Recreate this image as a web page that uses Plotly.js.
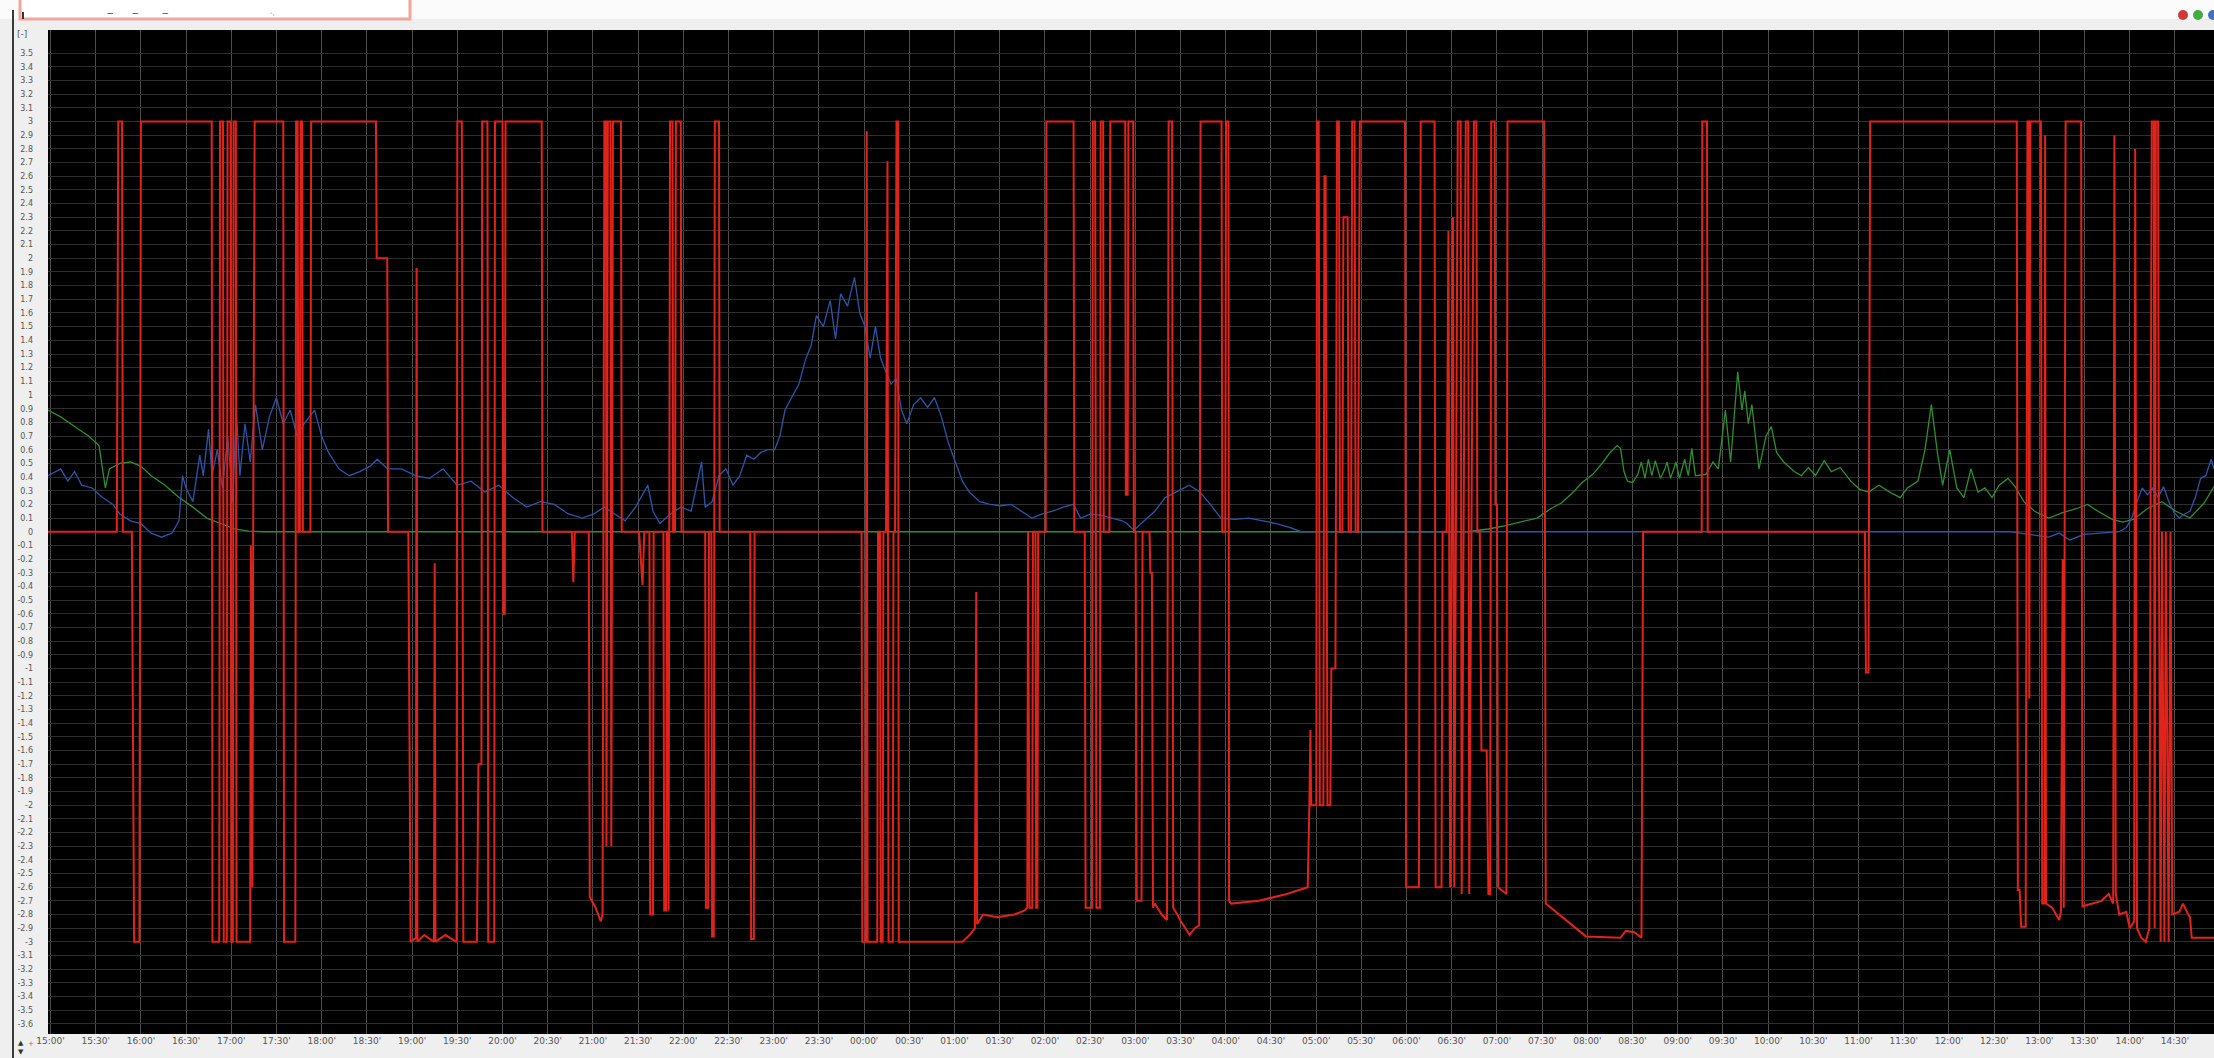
<!DOCTYPE html>
<html>
<head>
<meta charset="utf-8">
<script src="https://cdn.plot.ly/plotly-3.0.1.min.js"></script>
<style>html,body{margin:0;padding:0;background:#efefef;}#chart{width:2214px;height:1058px;}</style>
</head>
<body>
<div id="chart"></div>
<script>
// time axis: minutes after 15:00
const xTickVals = [0,30,60,90,120,150,180,210,240,270,300,330,360,390,420,450,480,510,540,570,600,630,660,690,720,750,780,810,840,870,900,930,960,990,1020,1050,1080,1110,1140,1170,1200,1230,1260,1290,1320,1350,1380,1410,1440];
const xTickText = ["15:00'","15:30'","16:00'","16:30'","17:00'","17:30'","18:00'","18:30'","19:00'","19:30'","20:00'","20:30'","21:00'","21:30'","22:00'","22:30'","23:00'","23:30'","00:00'","00:30'","01:00'","01:30'","02:00'","02:30'","03:00'","03:30'","04:00'","04:30'","05:00'","05:30'","06:00'","06:30'","07:00'","07:30'","08:00'","08:30'","09:00'","09:30'","10:00'","10:30'","11:00'","11:30'","12:00'","12:30'","13:00'","13:30'","14:00'","14:30'","15:00'"];
const yTickVals = [];
const yTickText = [];
for (let k = -36; k <= 35; k++) {
  yTickVals.push(k / 10);
  let s = (k / 10).toFixed(1);
  if (s.endsWith('.0')) s = s.slice(0, -2);
  if (s === '-0') s = '0';
  yTickText.push(s);
}

// red series (minutes, value)
const redPts = [
[-1.7,0],[44,0],[45,3],[47.5,3],[48,0],[54,0],[55.5,-3],[59,-3],[60,3],[107,3],[107.5,-3],[112,-3],[112.5,3],[114.5,3],[115,-3],[117,-3],[117.5,3],[119.5,3],[120,-3],[121,-3],[121.5,3],[123,3],[123.5,-3],[132.5,-3],[133,-0.1],[134,-2.6],[134.5,-0.1],[135.5,3],[154.5,3],[155,-3],[162.5,-3],[163,3],[164,3],[164.5,0],[165.5,0],[166,3],[167,3],[167.5,0],[172.5,0],[173,3],[216,3],[216.5,2.0],[223.5,2.0],[224,0],[237.5,0],[239,-3],[242.5,-2.97],[243,1.93],[243.5,-3],[248,-2.95],[254.5,-3],[255,-0.23],[255.5,-3],[262,-2.95],[269.5,-3],[270,3],[273,3],[274,-3],[283,-3],[284,-1.7],[286,-1.7],[286.5,3],[290,3],[290.5,-3],[294.5,-3],[295,3],[300,3],[300.5,-0.6],[301.5,-0.6],[302,3],[326,3],[326.5,0],[346,0],[347,-0.37],[348,0],
[357.2,0],[357.9,-2.67],[361.8,-2.75],[365.2,-2.85],[366.4,-2.8],[367.6,3],[368.7,3],[369,-2.3],[369.9,3],[371.7,3],[372.2,-2.3],[373.3,3],[378.6,3],[379.1,0],[390.6,0],[392.9,-0.39],[394.1,0],[397.5,0],[398,-2.8],[399.9,-2.8],[400.3,0],[406.8,0],[407.3,-2.77],[408.6,-2.77],[409.1,0],[409.8,0],[410.2,-2.77],[411.2,3],[412.8,3],[413.2,0],[414.5,0],[415.1,3],[418.3,3],[418.8,0],[434.5,0],[435,-2.75],[436.5,-2.75],[437,0],[438.6,0],[439.1,-2.96],[440.2,-2.96],[440.9,3],[443.7,3],[444.1,0],[464.4,0],[465,-2.98],[466.8,-2.98],[467.3,0],[538.3,0],[538.8,-3],[541,-3],[541.7,2.93],[542.3,-3],[548.7,-3],[549.2,0],[550.5,0],[551,-3],[552.3,-3],[552.8,0],[554.5,0],[555.5,2.71],[556.2,-3],[559,-3],[559.5,0],[560.5,0],[561.5,3],[562.5,3],[563,-3],[605.2,-3],[610,-2.95],[613.5,-2.9],[614.4,-0.44],[615,-2.87],[619,-2.8],[628.2,-2.82],[639.8,-2.8],[646.7,-2.77],[648.3,-2.75],[648.8,0],[649.8,-2.75],[651.6,-2.75],[652,0],[653.7,0],[654.2,-2.75],[655,-2.75],[655.5,0],[660.5,0],[661,3],[679,3],[679.5,0],[686.4,0],[687,-2.75],[691.2,-2.75],[691.8,3],[693.3,3],[693.8,0],[694.2,-2.75],[696.5,-2.75],[697,3],[698.6,3],[699,0],[702.8,0],[703.4,3],
[713.3,3],[713.7,0.27],[714.9,0.27],[715.4,3],[718.6,3],[719,0],[720.2,0],[720.9,-2.7],[724.1,-2.7],[724.8,0],[729.4,0],[730,-0.3],[731,-0.3],[731.7,-2.75],[732.9,-2.72],[737.5,-2.8],[741,-2.84],[742.1,3],[744.4,3],[745.1,-2.75],[747.9,-2.8],[750.2,-2.85],[756,-2.95],[759.4,-2.9],[762.4,-2.88],[763.3,3],[777.2,3],[777.7,0],[779.7,0],[780.2,3],[781.8,3],[782.2,-2.7],[783.6,-2.72],[802,-2.7],[820.5,-2.65],[834.4,-2.6],[835.5,-2.0],[836.2,-1.45],[836.7,-2.0],[840.1,-2.0],[840.6,3],[841.7,3],[842.4,-2.0],[844.8,-2.0],[845.5,2.6],[846.3,2.6],[847.5,-2.0],[849.4,-2.0],[850.1,-1.0],[852.8,-1.0],[853.9,3],[855.1,3],[855.8,0],[857.4,0],[858.1,2.3],[860.9,2.3],[861.6,0],[863.2,0],[863.9,3],[865.5,3],[866.2,0],[867.8,0],[869,3],[899,3],[899.7,-2.6],[908.2,-2.6],[909.4,3],[918.6,3],[919.3,-2.6],[923.2,-2.6],[923.9,0],[926.6,0],[927.8,2.2],[928.9,-2.6],[930.8,2.3],[931.7,-2.6],[934,3],[935.9,3],[936.6,-2.65],[939.3,3],[940.9,3],[941.6,-2.65],[944.7,3],[946.3,3],[947,0],[948.6,0],[949.7,-1.6],[953.2,-1.6],[954.3,-2.65],[955.5,-2.65],[956.2,3],[958.5,3],[959,0.2],[960,0.2],[960.8,-2.6],[966.3,-2.65],[967,3],[991.3,3],[992.4,-2.72],[1019,-2.96],[1042,-2.97],[1045.5,-2.92],[1051.2,-2.93],[1055.9,-2.97],[1057,0],
[1095.9,0],[1096.3,3],[1099.4,3],[1099.9,0],[1204.2,0],[1204.9,-1.03],[1206.6,-1.03],[1207.7,3],[1305,3],[1305.7,-2.62],[1306.9,-2.62],[1307.9,-2.89],[1310.9,-2.89],[1312.1,3],[1312.8,3],[1313.3,-1.22],[1313.9,3],[1321,3],[1321.9,-2.72],[1323.3,-2.72],[1323.8,2.9],[1324.4,-2.72],[1328.5,-2.75],[1333.2,-2.84],[1334.3,-2.78],[1335.5,-0.2],[1336.2,-2.75],[1337.4,3],[1347.7,3],[1348.6,-2.74],[1354.3,-2.72],[1361.3,-2.7],[1366,-2.65],[1369,-2.72],[1369.8,2.9],[1370.7,-2.65],[1373,-2.8],[1377.7,-2.78],[1380,-2.9],[1382.9,-2.85],[1383.6,2.8],[1384.8,-2.9],[1387.6,-2.97],[1390.6,-3],[1393,-2.9],[1394.6,3],[1396,3],[1396.5,-2.9],[1397.3,3],[1398.8,3],[1399.3,0],[1400.5,-3],[1401.4,0],[1403,-3],[1403.9,0],[1405.8,-3],[1407,0],[1408.2,-2.8],[1412.9,-2.78],[1415.3,-2.72],[1418.8,-2.8],[1420,-2.82],[1421.1,-2.97],[1435.9,-2.97]
];
const redMin = redPts.map(p => p[0]);
const redVal = redPts.map(p => p[1]);

// blue series
const bluePts = [
[-1.7,0.41],[6.8,0.46],[11.5,0.37],[16,0.44],[20.7,0.34],[27.6,0.32],[34.5,0.25],[41.4,0.2],[46,0.13],[53,0.08],[59.9,0.06],[66.8,-0.01],[73.7,-0.04],[80.7,-0.01],[85.3,0.08],[87.6,0.41],[89.9,0.32],[94.5,0.22],[99.1,0.56],[101.4,0.41],[104.9,0.75],[107.2,0.41],[110.7,0.6],[114.1,0.32],[117.6,0.7],[121,0.22],[123.3,0.89],[125.7,0.41],[129.1,0.79],[132.6,0.51],[136,0.93],[140.6,0.6],[145.3,0.84],[149.9,0.98],[154.5,0.79],[159.1,0.89],[163.7,0.7],[168.3,0.79],[175.3,0.89],[179.9,0.7],[184.5,0.58],[191.4,0.46],[198.3,0.41],[205.2,0.44],[212.2,0.48],[216.8,0.53],[223.7,0.46],[233,0.46],[242.2,0.41],[251.4,0.39],[260.6,0.46],[269.8,0.34],[279.1,0.37],[288.3,0.29],[297.5,0.34],[306.8,0.25],[316,0.18],[325.2,0.22],[334.4,0.2],[343.7,0.13],[352.9,0.1],
[360.6,0.13],[367.5,0.18],[374.5,0.13],[381.4,0.08],[388.3,0.18],[396.4,0.34],[399.9,0.15],[404.5,0.06],[411.4,0.13],[418.3,0.18],[425.2,0.15],[432.1,0.51],[434.5,0.18],[439.1,0.22],[443.7,0.41],[448.3,0.46],[452.9,0.34],[457.5,0.41],[462.1,0.56],[466.8,0.53],[471.4,0.58],[476,0.6],[480.6,0.6],[484.1,0.7],[487.5,0.89],[492.1,0.98],[496.7,1.08],[501.4,1.27],[504.8,1.36],[508.3,1.58],[512.9,1.5],[517.5,1.69],[521,1.41],[524.4,1.74],[529,1.65],[533.6,1.86],[537.1,1.6],[540.6,1.5],[544,1.27],[547.5,1.5],[550.9,1.27],[554.4,1.17],[557.9,1.08],[561.3,1.12],[564.8,0.89],[568.3,0.79],[572.9,0.93],[577.5,0.98],[582.1,0.91],[586.7,0.98],[591.3,0.84],[595.9,0.65],[600.6,0.51],[605.2,0.37],[609.8,0.29],[616.7,0.22],[623.6,0.2],[630.5,0.19],[637.5,0.2],[644.4,0.15],[651.3,0.1],[658.2,0.13],[665.1,0.15],[672.1,0.18],[679,0.2],[683.6,0.1],[690.5,0.13],[697.4,0.12],[704.4,0.1],[711.3,0.08],
[714.4,0.06],[719,0.01],[725.9,0.08],[732.9,0.15],[739.8,0.25],[746.7,0.29],[755.9,0.34],[762.9,0.29],[769.8,0.2],[776.7,0.1],[785.9,0.09],[795.2,0.1],[804.4,0.08],[813.6,0.06],[822.8,0.03],[829.8,0],[1300,0],[1326.2,-0.04],[1333.2,-0.01],[1340.2,-0.06],[1349.6,-0.02],[1373,0],[1377.7,0.03],[1381.3,0.1],[1384.8,0.22],[1388.3,0.32],[1391.8,0.27],[1395.3,0.32],[1398.8,0.25],[1402.4,0.33],[1405.9,0.22],[1409.4,0.14],[1412.9,0.1],[1416.4,0.13],[1420,0.15],[1423.5,0.25],[1427,0.39],[1430.5,0.41],[1434,0.53],[1435.9,0.46]
];
const blueMin = bluePts.map(p => p[0]);
const blueVal = bluePts.map(p => p[1]);

// green series
const greenPts = [
[-1.7,0.89],[6.8,0.84],[16,0.77],[25.3,0.7],[32.2,0.63],[34.5,0.46],[36.4,0.32],[39.1,0.46],[46,0.5],[53,0.51],[59.9,0.48],[66.8,0.41],[76,0.34],[85.3,0.25],[94.5,0.18],[103.7,0.1],[113,0.06],[122.2,0.02],[131.4,0.005],[140.6,0],[940.5,0],[954.3,0.02],[963.6,0.04],[975.1,0.07],[986.6,0.1],[995.9,0.17],[1002.8,0.21],[1009.7,0.28],[1016.6,0.36],[1023.6,0.42],[1030.5,0.51],[1035.1,0.58],[1039.7,0.63],[1042,0.61],[1044.3,0.44],[1046.6,0.37],[1050.1,0.36],[1053.5,0.42],[1055.8,0.51],[1058.2,0.39],[1060.5,0.53],[1062.8,0.41],[1065.1,0.52],[1068.5,0.39],[1071.5,0.46],
[1072.9,0.51],[1075.2,0.39],[1078.8,0.51],[1081.1,0.39],[1084.6,0.53],[1087,0.41],[1089.3,0.61],[1091.7,0.41],[1098.7,0.42],[1103.4,0.51],[1106.9,0.46],[1111.6,0.89],[1115.1,0.51],[1119.8,1.17],[1122.6,0.89],[1124.5,1.03],[1126.8,0.79],[1129.2,0.93],[1131.5,0.7],[1133.9,0.46],[1138.6,0.7],[1142.1,0.77],[1145.6,0.58],[1150.3,0.51],[1157.3,0.44],[1162,0.41],[1166.7,0.47],[1171.4,0.41],[1177.2,0.52],[1181.9,0.44],[1187.8,0.47],[1194.8,0.37],[1200.7,0.31],[1206.6,0.29],[1213.6,0.34],[1220.6,0.29],[1227.7,0.25],[1232.4,0.32],[1239.4,0.37],[1244.1,0.6],[1248.3,0.93],[1252.3,0.58],[1255.8,0.34],[1260.5,0.6],[1265.2,0.32],[1269.9,0.25],[1274.6,0.46],[1279.3,0.29],[1283.9,0.32],[1288.6,0.25],[1293.3,0.34],[1299.2,0.39],[1303.9,0.33],[1309.7,0.22],[1316.8,0.15],[1326.2,0.1],[1335.5,0.14],[1344.9,0.17],[1351.9,0.2],[1358.9,0.15],[1368.4,0.09],[1375.4,0.07],[1382.4,0.09],[1391.8,0.17],[1401.2,0.22],[1410.6,0.15],[1420,0.1],[1429.3,0.21],[1435.9,0.33]
];
const greenMin = greenPts.map(p => p[0]);
const greenVal = greenPts.map(p => p[1]);

// pixel helpers for decorations (plot area: x 48..2214, y 30..1034)
const PL = 48, PW = 2166, PT = 30, PH = 1004;
const fx = px => (px - PL) / PW;
const fy = py => (PT + PH - py) / PH;

const traces = [
  {x: greenMin, y: greenVal, type: 'scatter', mode: 'lines', line: {color: '#2f8f2f', width: 1.3}, hoverinfo: 'skip'},
  {x: blueMin, y: blueVal, type: 'scatter', mode: 'lines', line: {color: '#2e55a8', width: 1.3}, hoverinfo: 'skip'},
  {x: redMin, y: redVal, type: 'scatter', mode: 'lines', line: {color: '#e0231b', width: 2}, hoverinfo: 'skip'}
];

const shapes = [
  {type: 'rect', xref: 'paper', yref: 'paper', x0: fx(0), x1: fx(2214), y0: fy(19), y1: fy(0), fillcolor: '#fbfbfb', line: {width: 0}, layer: 'below'},
  {type: 'rect', xref: 'paper', yref: 'paper', x0: fx(20), x1: fx(410), y0: fy(19), y1: fy(-4), fillcolor: '#ffffff', line: {color: '#f2a59d', width: 3}},
  {type: 'line', xref: 'paper', yref: 'paper', x0: fx(23), x1: fx(23), y0: fy(19), y1: fy(12), line: {color: '#333', width: 2}},
  {type: 'line', xref: 'paper', yref: 'paper', x0: fx(13), x1: fx(13), y0: fy(1058), y1: fy(10), line: {color: '#3a3a3a', width: 2}},
  {type: 'circle', xref: 'paper', yref: 'paper', x0: fx(2178), x1: fx(2188), y0: fy(20), y1: fy(10), fillcolor: '#d23a3a', line: {width: 0}},
  {type: 'circle', xref: 'paper', yref: 'paper', x0: fx(2193), x1: fx(2203), y0: fy(20), y1: fy(10), fillcolor: '#3fae3f', line: {width: 0}},
  {type: 'circle', xref: 'paper', yref: 'paper', x0: fx(2208), x1: fx(2218), y0: fy(20), y1: fy(10), fillcolor: '#3f72c4', line: {width: 0}}
];

const ann = (px, py, text, size, color) => ({xref: 'paper', yref: 'paper', x: fx(px), y: fy(py), text: text, showarrow: false, xanchor: 'left', yanchor: 'middle', font: {size: size, color: color, family: 'DejaVu Sans'}});
const annotations = [
  ann(15, 34, '[-]', 9, '#555'),
  ann(16, 1043, '▲', 7, '#333'),
  ann(16, 1052, '▼', 7, '#333'),
  ann(26, 1044, '+', 7, '#777'),
  ann(105, 12, '‒', 10, '#444'),
  ann(130, 12, '‒', 10, '#444'),
  ann(160, 12, '‒', 10, '#444'),
  ann(268, 13, '-,', 7, '#888')
];

const layout = {
  width: 2214, height: 1058,
  margin: {l: PL, r: 0, t: PT, b: 1058 - PT - PH, pad: 0},
  paper_bgcolor: '#efefef',
  plot_bgcolor: '#000000',
  showlegend: false,
  xaxis: {
    range: [-1.66, 1435.9], tickmode: 'array', tickvals: xTickVals, ticktext: xTickText,
    showgrid: true, gridcolor: '#4d4d4d', gridwidth: 1, zeroline: false, showline: false, ticks: '',
    tickfont: {size: 9, color: '#555', family: 'DejaVu Sans'}, fixedrange: true
  },
  yaxis: {
    range: [-3.674, 3.670], tickmode: 'array', tickvals: yTickVals, ticktext: yTickText,
    showgrid: true, gridcolor: '#2e2e2e', gridwidth: 1, zeroline: false, showline: false, ticks: '',
    ticklabelstandoff: 14,
    tickfont: {size: 8, color: '#555', family: 'DejaVu Sans'}, fixedrange: true
  },
  shapes: shapes,
  annotations: annotations
};

Plotly.newPlot('chart', traces, layout, {staticPlot: true, displayModeBar: false});
</script>
</body>
</html>
